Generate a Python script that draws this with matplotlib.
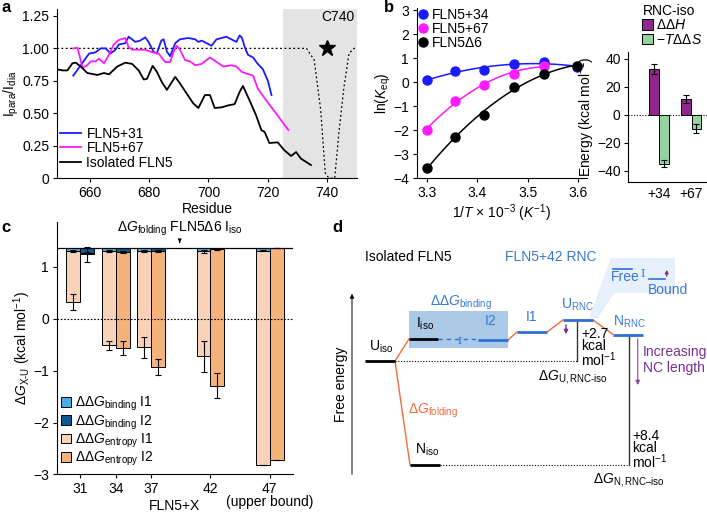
import numpy as np
import matplotlib.pyplot as plt
from matplotlib.patches import Patch, Polygon, Rectangle

plt.rcParams['font.family'] = ['Liberation Sans', 'DejaVu Sans']
plt.rcParams['mathtext.fontset'] = 'custom'
plt.rcParams['mathtext.rm'] = 'Liberation Sans'
plt.rcParams['mathtext.it'] = 'Liberation Sans:italic'
plt.rcParams['mathtext.bf'] = 'Liberation Sans:bold'
plt.rcParams['font.size'] = 10
plt.rcParams['axes.linewidth'] = 0.8
plt.rcParams['xtick.major.width'] = 0.8
plt.rcParams['ytick.major.width'] = 0.8
plt.rcParams['xtick.major.size'] = 3
plt.rcParams['ytick.major.size'] = 3
plt.rcParams['xtick.major.pad'] = 2.5
plt.rcParams['ytick.major.pad'] = 2.5

# ---------------- panel a data ----------------
res_31 = [654.5, 657.0, 659.8, 662.0, 663.7, 665.4, 667.0, 668.7, 669.8, 672.0, 673.1, 675.4, 677.0,
          678.7, 679.8, 681.5, 682.6, 684.1, 684.9, 686.0, 687.1, 688.8, 690.4, 693.2, 695.5, 696.6,
          697.7, 699.4, 701.0, 702.7, 704.4, 706.0, 707.7, 709.4, 710.5, 711.3, 712.2, 713.3, 715.0,
          716.6, 718.3, 720.0, 721.2]
val_31 = [0.79, 0.87, 0.96, 0.97, 1.00, 1.00, 0.96, 0.99, 1.03, 1.04, 1.09, 1.05, 1.06,
          1.085, 1.05, 0.975, 0.96, 1.06, 1.07, 0.975, 0.94, 1.04, 1.07, 1.08, 1.07, 1.05,
          1.06, 1.04, 1.02, 1.07, 1.08, 1.09, 1.07, 1.05, 1.10, 1.08, 1.01, 0.95, 0.93,
          0.88, 0.84, 0.75, 0.64]

res_67 = [654.4, 655.9, 657.6, 659.2, 660.3, 662.0, 663.1, 664.8, 666.5, 668.1, 669.8, 672.0, 673.1,
          674.3, 676.5, 678.7, 681.0, 683.2, 685.4, 687.1, 688.2, 689.3, 690.4, 692.1, 693.8, 695.5,
          697.7, 700.5, 702.7, 705.0, 707.7, 709.4, 711.1, 712.2, 715.0, 716.6, 719.4, 722.7, 726.9]
val_67 = [1.00, 1.005, 0.85, 0.87, 0.90, 0.90, 0.92, 0.885, 0.95, 1.03, 1.065, 1.08, 1.01,
          0.99, 0.99, 0.99, 0.97, 0.96, 0.895, 0.895, 0.97, 1.02, 0.99, 0.91, 0.90, 0.87,
          0.88, 0.93, 0.895, 0.86, 0.87, 0.86, 0.82, 0.81, 0.79, 0.69, 0.60, 0.50, 0.37]

res_iso = [648.6, 650.9, 652.5, 654.2, 655.3, 657.0, 659.2, 662.6, 664.8, 666.5, 669.3, 672.0, 674.3,
           676.5, 678.2, 679.3, 681.2, 682.6, 684.3, 686.0, 687.1, 688.8, 690.4, 692.7, 694.9, 696.6,
           698.8, 700.5, 702.1, 704.4, 706.6, 708.8, 710.5, 711.6, 713.8, 716.0, 717.8, 718.9, 720.5,
           723.3, 725.5, 727.8, 729.5, 731.1, 734.5]
val_iso = [0.84, 0.83, 0.83, 0.885, 0.89, 0.86, 0.81, 0.795, 0.81, 0.80, 0.86, 0.89, 0.88,
           0.83, 0.76, 0.765, 0.865, 0.82, 0.74, 0.68, 0.72, 0.78, 0.73, 0.65, 0.575, 0.54,
           0.64, 0.64, 0.54, 0.545, 0.56, 0.57, 0.665, 0.71, 0.60, 0.485, 0.37, 0.355, 0.27,
           0.275, 0.215, 0.17, 0.20, 0.15, 0.10]

ref_res = [649, 733, 735.6, 737.8, 739.3, 740.5, 742.5, 743.9, 745.6, 747.3, 749, 750]
ref_val = [1.0, 1.0, 0.91, 0.52, 0.04, 0.0, 0.0, 0.35, 0.70, 0.96, 1.0, 1.0]

# ---------------- panel b data ----------------
inv_T = [3.300, 3.356, 3.413, 3.472, 3.533, 3.597]
lnk_34 = [0.07, 0.48, 0.50, 0.77, 0.82, 0.63]
lnk_67 = [-1.99, -0.77, -0.10, 0.34, 0.68]
lnk_d6 = [-3.58, -2.29, -1.36, -0.19, 0.34, 0.68]

rnc = ['+34', '+67']
ddH = [32.5, 11.0]
ddH_err = [3.5, 3.0]
tdds = [-35.0, -10.0]
tdds_err = [2.5, 3.0]

# ---------------- panel c data ----------------
nc_len = [31, 34, 37, 42, 47]
nc_labels = ['31', '34', '37', '42', '47\n(upper bound)']
dg_fold_iso = 1.37
bind_I1 = [1.30, 1.30, 1.30, 1.30, 1.31]
bind_I1_err = [0.02, 0.02, 0.02, 0.03, 0.01]
bind_I2 = [1.26, 1.29, 1.31, 1.34, 1.36]
bind_I2_err = [0.02, 0.02, 0.02, 0.01, 0.0]
ent_I1 = [0.32, -0.515, -0.55, -0.72, -2.81]
ent_I1_err = [0.15, 0.095, 0.20, 0.30, 0]
ent_I2 = [1.24, -0.56, -0.93, -1.29, -2.72]
ent_I2_err = [0.15, 0.13, 0.15, 0.235, 0]

# ---------------- panel d data (schematic, figure pixel units) ----------------
lvl_names = ['U_iso', 'I_iso', 'I2', 'I1', 'U_RNC', 'N_RNC', 'N_iso']
lvl_x0 = [365, 409, 478, 517, 563, 613, 410]
lvl_x1 = [395, 438, 508, 547, 593, 643, 440]
lvl_y = [361, 339, 340, 332, 320, 334.5, 465]
lvl_col = ['k', 'k', 'b', 'b', 'b', 'b', 'k']

W, H = 707, 514
fig = plt.figure(figsize=(W / 100, H / 100), dpi=100)


def pax(l, t, r, b):
    return fig.add_axes([l / W, 1 - b / H, (r - l) / W, (b - t) / H])


blue = '#1a1aff'
magenta = '#ff1aff'

# ---------------- a ----------------
ax = pax(57, 9.5, 357, 178)
ax.axvspan(725, 750, color='#e4e4e4', lw=0, zorder=0)
ax.plot(ref_res, ref_val, ls=(0, (1.5, 2)), color='k', lw=0.9)
l1, = ax.plot(res_31, val_31, color=blue, lw=1.3)
l2, = ax.plot(res_67, val_67, color=magenta, lw=1.3)
l3, = ax.plot(res_iso, val_iso, color='k', lw=1.3)
ax.plot(740, 1.0, marker='*', color='k', ms=12, ls='none')
ax.text(749, 1.24, 'C740', ha='right', va='center')
ax.set_xlim(649, 750)
ax.set_ylim(0, 1.3)
ax.set_xticks([660, 680, 700, 720, 740])
ax.set_yticks([0, 0.25, 0.5, 0.75, 1.0, 1.25])
ax.set_yticklabels(['0', '0.25', '0.50', '0.75', '1.00', '1.25'])
ax.spines[['top', 'right']].set_visible(False)
ax.set_xlabel('Residue', labelpad=2)
ax.set_ylabel('I$_{\\rm para}$/I$_{\\rm dia}$', labelpad=1)
ax.legend([l1, l2, l3], ['FLN5+31', 'FLN5+67', 'Isolated FLN5'], loc='upper left',
          bbox_to_anchor=(0.01, 0.305), frameon=False, handlelength=1.5, handletextpad=0.4,
          labelspacing=0.05, borderaxespad=0, borderpad=0)

# ---------------- b ----------------
bx = pax(416.7, 7.6, 586.7, 178.3)
for y, c, lab in [(lnk_34, blue, 'FLN5+34'), (lnk_67, magenta, 'FLN5+67'), (lnk_d6, 'k', 'FLN5Δ6')]:
    x = np.array(inv_T[:len(y)])
    p = np.polyfit(x, y, 2)
    xs = np.linspace(x[0], x[-1], 60)
    bx.plot(xs, np.polyval(p, xs), color=c, lw=1.1)
    bx.plot(x, y, 'o', color=c, ms=6.5, label=lab, clip_on=False)
bx.set_xlim(3.28, 3.617)
bx.set_ylim(-4, 3.1)
bx.set_xticks([3.3, 3.4, 3.5, 3.6])
bx.set_yticks(range(-4, 4))
bx.spines[['top', 'right']].set_visible(False)
bx.set_xlabel('1/$T$ × 10$^{-3}$ ($K^{-1}$)', labelpad=2)
bx.set_ylabel('ln($K_{\\rm eq}$)', labelpad=0)
bx.legend(loc='upper left', bbox_to_anchor=(0.01, 1.0), frameon=False, handlelength=0.6,
          handletextpad=0.4, labelspacing=0.0, borderaxespad=0, borderpad=0)

ex = pax(628.3, 51.7, 706.7, 181.7)
pos = np.arange(len(rnc))
ex.axhline(0, color='k', ls=(0, (1, 1.5)), lw=0.8)
ex.bar(pos - 0.16, ddH, width=0.3, color='#90278e', edgecolor='k', lw=0.7,
       yerr=ddH_err, capsize=2.5, error_kw=dict(lw=0.8, capthick=0.8), label='ΔΔ$H$')
ex.bar(pos + 0.16, tdds, width=0.3, color='#93d3a2', edgecolor='k', lw=0.7,
       yerr=tdds_err, capsize=2.5, error_kw=dict(lw=0.8, capthick=0.8), label='−$T$ΔΔ$S$')
ex.set_xlim(-0.95, 1.48)
ex.set_ylim(-48, 45)
ex.set_xticks(pos)
ex.set_xticklabels(rnc)
ex.tick_params(axis='x', length=0, pad=4)
ex.set_yticks([-40, -20, 0, 20, 40])
ex.spines[['top', 'right']].set_visible(False)
ex.set_ylabel('Energy (kcal mol$^{-1}$)', labelpad=0)
ex.legend(loc='upper left', bbox_to_anchor=(0.18, 1.37), frameon=False, title='RNC-iso',
          alignment='left', handlelength=0.75, handleheight=0.75, handletextpad=0.2,
          labelspacing=0.05, borderaxespad=0, borderpad=0, title_fontsize=10)

# ---------------- c ----------------
cx = pax(56.7, 222.2, 293.3, 474.4)
w = 1.18
c_b1, c_b2, c_e1, c_e2 = '#4aaee8', '#0d5a96', '#f8d3b9', '#f5b27a'
x = np.array(nc_len, dtype=float)
cx.axhline(0, color='k', ls=(0, (1.5, 1.5)), lw=0.8)
cx.bar(x, np.array(bind_I1) - dg_fold_iso, bottom=dg_fold_iso, width=-w, align='edge',
       color=c_b1, edgecolor='k', lw=0.7)
cx.bar(x, np.array(bind_I2) - dg_fold_iso, bottom=dg_fold_iso, width=w, align='edge',
       color=c_b2, edgecolor='k', lw=0.7)
cx.bar(x, np.array(ent_I1) - np.array(bind_I1), bottom=bind_I1, width=-w, align='edge',
       color=c_e1, edgecolor='k', lw=0.7)
cx.bar(x, np.array(ent_I2) - np.array(bind_I2), bottom=bind_I2, width=w, align='edge',
       color=c_e2, edgecolor='k', lw=0.7)
ek = dict(fmt='none', ecolor='k', elinewidth=0.8, capsize=2.5, capthick=0.8)
cx.errorbar(x - w / 2, ent_I1, yerr=ent_I1_err, **ek)
cx.errorbar(x + w / 2, ent_I2, yerr=ent_I2_err, **ek)
cx.errorbar(x - w / 2, bind_I1, yerr=bind_I1_err, **ek)
cx.errorbar(x + w / 2, bind_I2, yerr=bind_I2_err, **ek)
cx.axhline(dg_fold_iso, color='k', lw=0.9)
cx.annotate('', xy=(39.4, 1.41), xytext=(39.4, 1.52),
            arrowprops=dict(arrowstyle='-|>', color='k', lw=0.7, mutation_scale=5))
cx.text(39.4, 1.56, 'Δ$G_{\\rm folding}$ FLN5Δ6 I$_{\\rm iso}$', ha='center', va='bottom')
cx.set_xlim(29, 49)
cx.set_ylim(-3, 1.86)
cx.set_xticks(nc_len)
cx.set_xticklabels(nc_labels)
for t in cx.get_xticklabels():
    t.set_linespacing(0.9)
cx.set_yticks([-3, -2, -1, 0, 1])
cx.spines[['top', 'right']].set_visible(False)
cx.set_ylabel('Δ$G_{\\rm X\\text{-}U}$ (kcal mol$^{-1}$)', labelpad=0)
fig.text(175 / W, 0.5 / H, 'FLN5+X', ha='center', va='bottom')
handles = [Patch(facecolor=c, edgecolor='k', lw=0.7) for c in (c_b1, c_b2, c_e1, c_e2)]
labels = ['ΔΔ$G_{\\rm binding}$ I1', 'ΔΔ$G_{\\rm binding}$ I2',
          'ΔΔ$G_{\\rm entropy}$ I1', 'ΔΔ$G_{\\rm entropy}$ I2']
cx.legend(handles, labels, loc='upper left', bbox_to_anchor=(0.02, 0.315), frameon=False,
          handlelength=0.7, handleheight=0.7, handletextpad=0.3, labelspacing=0.0,
          borderaxespad=0, borderpad=0)

# ---------------- d ----------------
dx = fig.add_axes([330 / W, 0, (W - 330) / W, (H - 240) / H])
dx.set_xlim(330, W)
dx.set_ylim(H, 240)
dx.axis('off')
orange = '#f26a3c'
lblue = '#2f6fd6'
tblue = '#3a78d0'
purple = '#7c2d91'
cmap = {'k': 'k', 'b': lblue}

# callout and binding box
dx.add_patch(Polygon([(589, 318), (611, 258), (675, 258), (675, 293), (614, 293), (598, 318)],
                     closed=True, facecolor='#e6f0fa', edgecolor='none', zorder=0))
dx.add_patch(Rectangle((409, 311), 99, 37, facecolor='#a9c9e6', edgecolor='none', zorder=0))

for n, a, b, y, c in zip(lvl_names, lvl_x0, lvl_x1, lvl_y, lvl_col):
    dx.plot([a, b], [y, y], color=cmap[c], lw=2.0, solid_capstyle='butt', zorder=3)

lv = dict(zip(lvl_names, zip(lvl_x0, lvl_x1, lvl_y)))
for s, e in [('U_iso', 'I_iso'), ('U_iso', 'N_iso'), ('I2', 'I1'), ('I1', 'U_RNC'), ('U_RNC', 'N_RNC')]:
    dx.plot([lv[s][1], lv[e][0]], [lv[s][2], lv[e][2]], color=orange, lw=1.0, zorder=2)

dx.plot([lv['I_iso'][1], lv['I2'][0]], [339, 339], color=lblue, lw=1.0, ls=(0, (3, 3)), zorder=2)
dx.text(460, 341, 'I', color=lblue, family='DejaVu Serif', fontsize=7.5, ha='center', va='center')

dx.plot([lv['U_iso'][1], 576.7], [361, 361], color='k', lw=0.8, ls=(0, (1, 1.5)))
dx.plot([lv['N_iso'][1], 627], [465, 465], color='k', lw=0.8, ls=(0, (1, 1.5)))
dx.plot([576.7, 576.7], [322, 361], color='#333333', lw=1.0)
dx.plot([629, 629], [336, 465], color='#333333', lw=1.0)

dx.annotate('', xy=(566, 337), xytext=(566, 322),
            arrowprops=dict(arrowstyle='-|>', color=purple, lw=1.0, mutation_scale=6))
dx.annotate('', xy=(637.7, 388), xytext=(637.7, 336),
            arrowprops=dict(arrowstyle='-|>', color=purple, lw=1.0, mutation_scale=6, alpha=0.7))

# free energy axis
dx.annotate('', xy=(352, 291), xytext=(352, 477),
            arrowprops=dict(arrowstyle='-|>', color='k', lw=0.7, mutation_scale=6))
dx.text(341, 384, 'Free energy', rotation=90, ha='center', va='center')

tk = dict(va='center')
dx.text(365, 257, 'Isolated FLN5', ha='left', **tk)
dx.text(505, 257, 'FLN5+42 RNC', ha='left', color=tblue, **tk)
dx.text(369, 347, 'U$_{\\rm iso}$', ha='left', **tk)
dx.text(416, 324, 'I$_{\\rm iso}$', ha='left', **tk)
dx.text(430, 303, 'ΔΔ$G_{\\rm binding}$', ha='left', color=tblue, **tk)
dx.text(485, 321, 'I2', ha='left', color=tblue, **tk)
dx.text(526, 317, 'I1', ha='left', color=tblue, **tk)
dx.text(561, 305, 'U$_{\\rm RNC}$', ha='left', color=tblue, **tk)
dx.text(613, 322, 'N$_{\\rm RNC}$', ha='left', color=tblue, **tk)
dx.text(415, 450, 'N$_{\\rm iso}$', ha='left', **tk)
dx.text(408, 411, 'Δ$G_{\\rm folding}$', ha='left', color=orange, **tk)
dx.text(581, 348, '+2.7\nkcal\nmol$^{-1}$', ha='left', va='center', linespacing=0.85)
dx.text(573, 377, 'Δ$G_{\\rm U,RNC\\text{-}iso}$', ha='center', **tk)
dx.text(632, 450, '+8.4\nkcal\nmol$^{-1}$', ha='left', va='center', linespacing=0.85)
dx.text(629, 480, 'Δ$G_{\\rm N,RNC–iso}$', ha='center', **tk)
dx.text(643, 360, 'Increasing\nNC length', ha='left', color=purple, va='center',
        linespacing=1.1)

# callout content
dx.plot([613, 632], [268.5, 268.5], color=lblue, lw=1.2)
dx.text(611, 277, 'Free', ha='left', color=tblue, **tk)
dx.text(643, 274, 'I', color=tblue, family='DejaVu Serif', fontsize=8, ha='center', va='center')
dx.plot([649, 665], [279, 279], color=lblue, lw=1.2)
dx.annotate('', xy=(666.7, 267), xytext=(666.7, 279),
            arrowprops=dict(arrowstyle='-|>', color=purple, lw=0.9, mutation_scale=5))
dx.text(648, 290, 'Bound', ha='left', color=tblue, **tk)

# panel letters
for lab, px, py in [('a', 6, 8), ('b', 389, 8), ('c', 6, 228), ('d', 337, 228)]:
    fig.text(px / W, 1 - py / H, lab, fontsize=12, fontweight='bold', ha='center', va='center')

fig.savefig('out.png', dpi=100)
